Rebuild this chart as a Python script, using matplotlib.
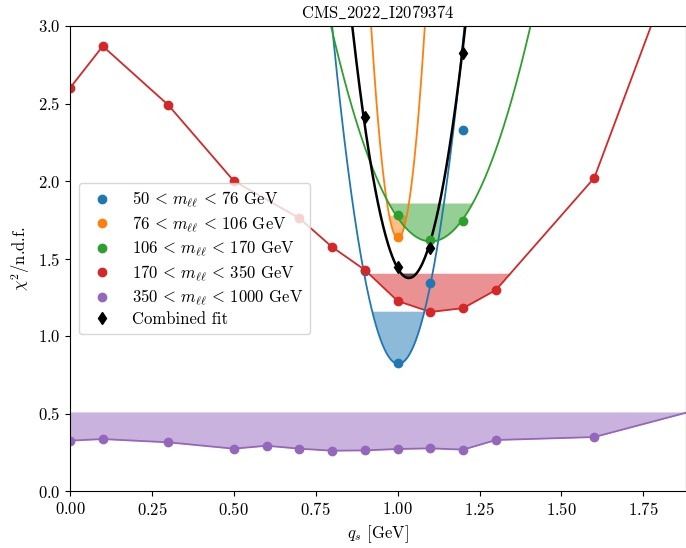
import numpy as np
import matplotlib.pyplot as plt

plt.rcParams['font.family'] = ['cmr10', 'DejaVu Serif']
plt.rcParams['mathtext.fontset'] = 'cm'
plt.rcParams['axes.formatter.use_mathtext'] = True
plt.rcParams['font.size'] = 12

LABELS = [r'$50\, <\, m_{\ell\ell}\, <\, 76$ GeV', r'$76\, <\, m_{\ell\ell}\, <\, 106$ GeV',
          r'$106\, <\, m_{\ell\ell}\, <\, 170$ GeV', r'$170\, <\, m_{\ell\ell}\, <\, 350$ GeV',
          r'$350\, <\, m_{\ell\ell}\, <\, 1000$ GeV']
COLOURS = ['tab:blue', 'tab:orange', 'tab:green', 'tab:red', 'tab:purple']

# bins fitted with a parabola: points + fit parameters (centre, curvature, minimum) + band top
qs_blue = [0.9, 1.0, 1.1, 1.2]
chi_blue = [1.42, 0.826, 1.34, 2.33]
qs_orange = [1.0]
chi_orange = [1.64]
qs_green = [1.0, 1.1, 1.2]
chi_green = [1.78, 1.62, 1.742]
qs_comb = [0.9, 1.0, 1.1, 1.2]
chi_comb = [2.415, 1.447, 1.565, 2.824]

fit_centre = [1.002, 1.001, 1.101, 1.034]
fit_curv = [53.4, 204.0, 15.0, 54.6]
fit_min = [0.82, 1.63, 1.61, 1.374]
band_top = [1.16, 1.78, 1.858, 1.406]

# bins drawn as lines
qs_red = [0.0, 0.1, 0.3, 0.5, 0.7, 0.8, 0.9, 1.0, 1.1, 1.2, 1.3, 1.6, 2.0]
chi_red = [2.60, 2.87, 2.49, 2.00, 1.76, 1.574, 1.426, 1.226, 1.155, 1.18, 1.297, 2.02, 4.28]
qs_purple = [0.0, 0.1, 0.3, 0.5, 0.6, 0.7, 0.8, 0.9, 1.0, 1.1, 1.2, 1.3, 1.6, 2.0]
chi_purple = [0.325, 0.335, 0.314, 0.273, 0.292, 0.273, 0.26, 0.262, 0.271, 0.275, 0.267, 0.329, 0.348, 0.572]
band_red = 1.405
band_purple = 0.51


def draw_parabola(ax, centre, curv, cmin, top, colour, lw, fill_alpha):
    x = np.linspace(0.6, 1.6, 800)
    y = curv * (x - centre) ** 2 + cmin
    ax.plot(x, y, color=colour, lw=lw)
    ax.fill_between(x, y, top, where=y < top, interpolate=True, color=colour, alpha=fill_alpha, lw=0)


fig = plt.figure(figsize=(6.86, 5.48), dpi=100)
ax = fig.add_axes([70 / 686, 57 / 548, 616 / 686, 465 / 548])

# line-type bins
for qs, chi, top, colour in [(qs_red, chi_red, band_red, COLOURS[3]),
                             (qs_purple, chi_purple, band_purple, COLOURS[4])]:
    qs = np.array(qs)
    chi = np.array(chi)
    ax.plot(qs, chi, color=colour, lw=1.3)
    ax.fill_between(qs, chi, top, where=chi < top, interpolate=True, color=colour, alpha=0.5, lw=0)

# parabola fits
for i, colour in enumerate(COLOURS[:3]):
    draw_parabola(ax, fit_centre[i], fit_curv[i], fit_min[i], band_top[i], colour, 1.3, 0.5)
draw_parabola(ax, fit_centre[3], fit_curv[3], fit_min[3], band_top[3], 'black', 1.8, 0.5)

ax.plot(qs_blue, chi_blue, 'o', color=COLOURS[0], ms=6, label=LABELS[0])
ax.plot(qs_orange, chi_orange, 'o', color=COLOURS[1], ms=6, label=LABELS[1])
ax.plot(qs_green, chi_green, 'o', color=COLOURS[2], ms=6, label=LABELS[2])
ax.plot(qs_red, chi_red, 'o', color=COLOURS[3], ms=6, label=LABELS[3])
ax.plot(qs_purple, chi_purple, 'o', color=COLOURS[4], ms=6, label=LABELS[4])
ax.plot(qs_comb, chi_comb, 'd', color='black', ms=6, label='Combined fit')

ax.set_xlim(0, 1.88)
ax.set_ylim(0, 3.0)
ax.set_xlabel(r'$q_s$ [GeV]')
ax.set_ylabel(r'$\chi^2$/n.d.f.')
ax.set_title(r'$\mathrm{CMS\_2022\_I2079374}$', fontsize=12)
ax.legend(loc='center left', bbox_to_anchor=(9 / 616, 0.5), borderaxespad=0,
          labelspacing=0.24, fontsize=12)

plt.savefig('out.png', dpi=100)
